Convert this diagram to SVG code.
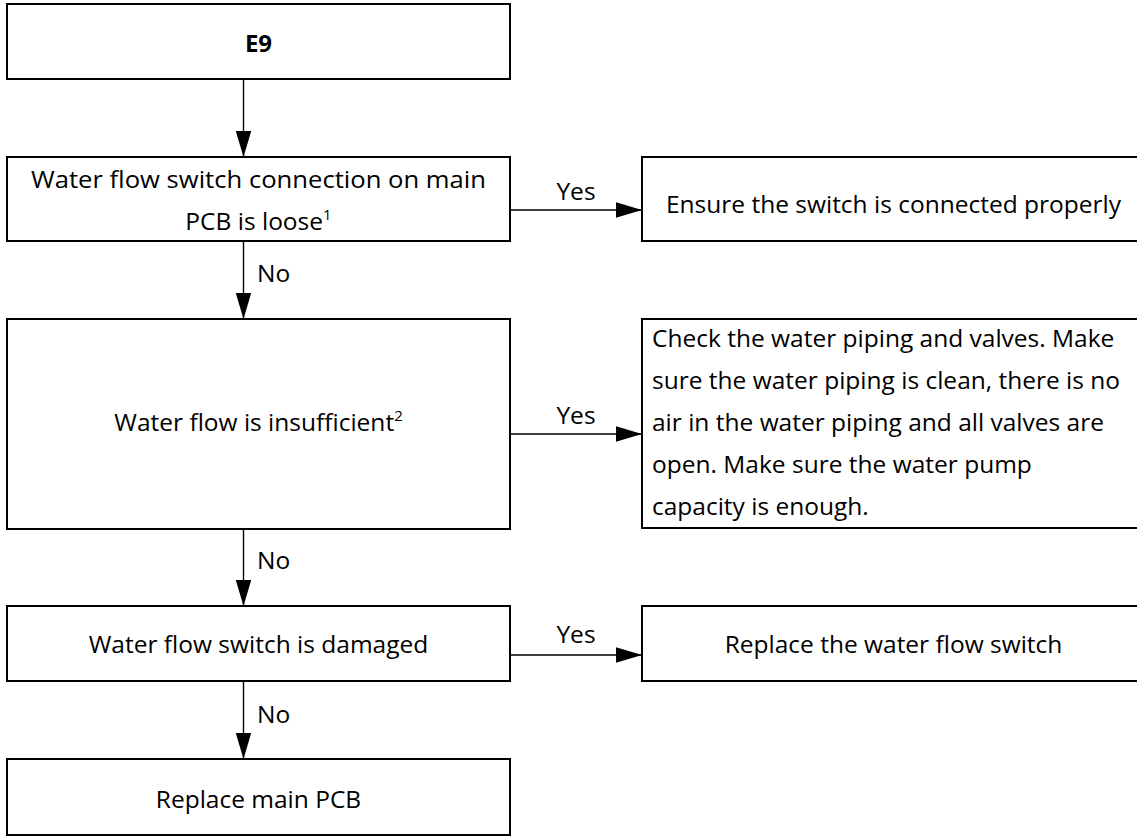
<svg xmlns="http://www.w3.org/2000/svg" width="1137" height="836" viewBox="0 0 1137 836">
<style>
.box{fill:#fff;stroke:#000;stroke-width:2}
.t{font-family:"Open Sans","Liberation Sans",sans-serif;font-size:24.5px;fill:#000}
.c{text-anchor:middle}
.b{font-weight:bold;font-size:24px}
.sup{font-size:15px}
.con{stroke:#000;stroke-width:1.4;fill:none;marker-end:url(#ah)}
</style>
<defs>
<marker id="ah" markerUnits="userSpaceOnUse" markerWidth="27" markerHeight="16" refX="26" refY="7.75" orient="auto">
<path d="M0,0 L26,7.75 L0,15.5 Z" fill="#000"/>
</marker>
</defs>
<g id="connectors">
<line class="con" x1="243.5" y1="79" x2="243.5" y2="157"/>
<line class="con" x1="243.5" y1="241" x2="243.5" y2="319"/>
<line class="con" x1="243.5" y1="529" x2="243.5" y2="606"/>
<line class="con" x1="243.5" y1="681" x2="243.5" y2="759"/>
<line class="con" x1="510" y1="210" x2="642" y2="210"/>
<line class="con" x1="510" y1="434" x2="642" y2="434"/>
<line class="con" x1="510" y1="655" x2="642" y2="655"/>
<text class="t" x="576" y="200" text-anchor="middle">Yes</text>
<text class="t" x="576" y="424" text-anchor="middle">Yes</text>
<text class="t" x="576" y="643" text-anchor="middle">Yes</text>
<text class="t" x="257" y="282">No</text>
<text class="t" x="257" y="569">No</text>
<text class="t" x="257" y="723">No</text>
</g>
<g id="n-e9">
<rect class="box" x="7" y="4" width="503" height="75"/>
<text class="t c b" x="258.5" y="52">E9</text>
</g>
<g id="n-loose">
<rect class="box" x="7" y="157" width="503" height="84"/>
<text class="t c" x="258.5" y="188" textLength="455" lengthAdjust="spacingAndGlyphs">Water flow switch connection on main</text>
<text class="t c" x="258.5" y="230">PCB is loose<tspan class="sup" dy="-10">1</tspan></text>
</g>
<g id="n-ensure">
<rect class="box" x="642" y="157" width="503" height="84"/>
<text class="t c" x="893.5" y="213">Ensure the switch is connected properly</text>
</g>
<g id="n-insufficient">
<rect class="box" x="7" y="319" width="503" height="210"/>
<text class="t c" x="258.5" y="431">Water flow is insufficient<tspan class="sup" dy="-10">2</tspan></text>
</g>
<g id="n-check">
<rect class="box" x="642" y="319" width="503" height="209"/>
<text class="t" x="652" y="347">Check the water piping and valves. Make</text>
<text class="t" x="652" y="389">sure the water piping is clean, there is no</text>
<text class="t" x="652" y="431">air in the water piping and all valves are</text>
<text class="t" x="652" y="473">open. Make sure the water pump</text>
<text class="t" x="652" y="515">capacity is enough.</text>
</g>
<g id="n-damaged">
<rect class="box" x="7" y="606" width="503" height="75"/>
<text class="t c" x="258.5" y="653">Water flow switch is damaged</text>
</g>
<g id="n-replace-switch">
<rect class="box" x="642" y="606" width="503" height="75"/>
<text class="t c" x="893.5" y="653">Replace the water flow switch</text>
</g>
<g id="n-replace-pcb">
<rect class="box" x="7" y="759" width="503" height="76"/>
<text class="t c" x="258.5" y="808">Replace main PCB</text>
</g>
</svg>
